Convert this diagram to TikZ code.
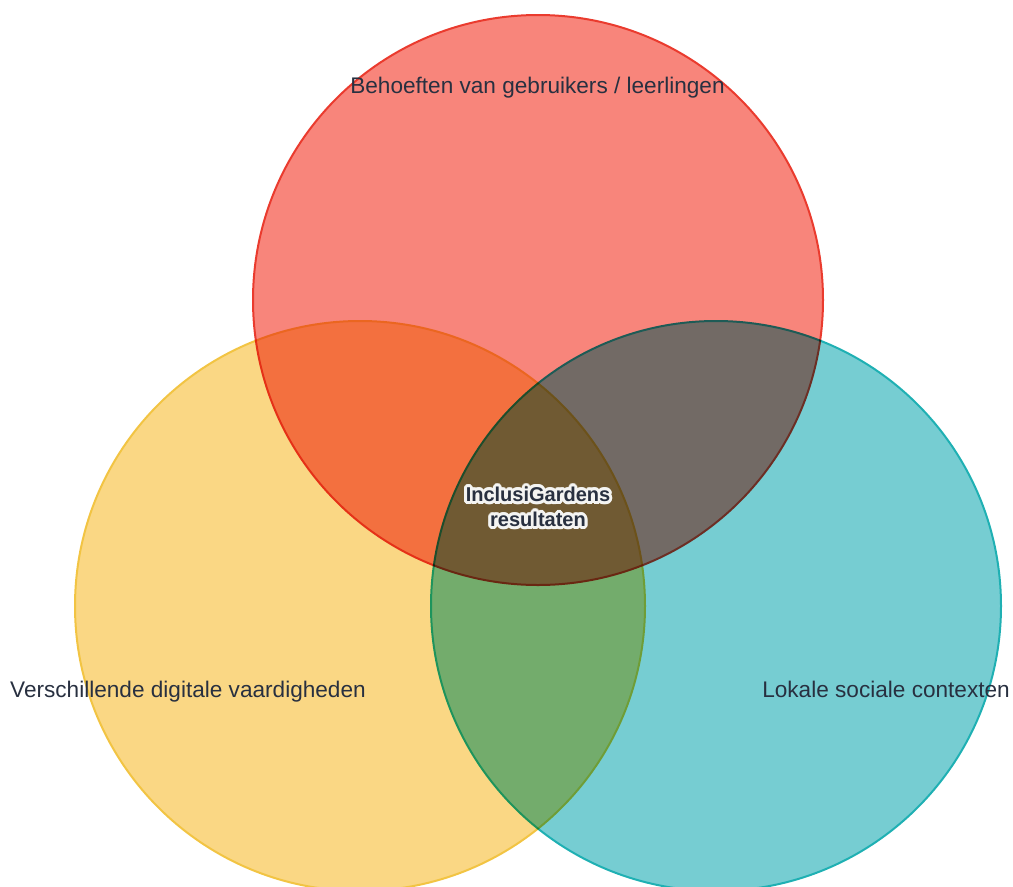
\documentclass[tikz,border=0pt]{standalone}
\usepackage{fontspec}
\setmainfont{Liberation Sans}
\usepackage{xcolor}
\usepackage{tikz}
\definecolor{ink}{HTML}{283040}
\definecolor{glow}{HTML}{F4F4F2}
\definecolor{redfill}{HTML}{F8857B}
\definecolor{redline}{HTML}{EA3B2E}
\definecolor{yellowfill}{HTML}{FAD784}
\definecolor{yellowline}{HTML}{F2C443}
\definecolor{tealfill}{HTML}{76CDD2}
\definecolor{tealline}{HTML}{1FB0B3}
\tikzset{
  redset/.style={fill=redfill, draw=redline, line width=2pt},
  yellowset/.style={fill=yellowfill, draw=yellowline, line width=2pt},
  tealset/.style={fill=tealfill, draw=tealline, line width=2pt},
  lab/.style={text=ink, font=\fontsize{22.6}{27}\selectfont, inner sep=0pt},
  core/.style={font=\fontsize{20}{25}\selectfont\bfseries, align=center, inner sep=0pt},
}

\begin{document}
\begin{tikzpicture}[x=1pt, y=1pt]
\useasboundingbox (0,0) rectangle (1013,-887);
\begin{scope}[blend mode=multiply]
\begin{scope}[transparency group]
\draw[redset] (538,-300) circle (285);
\end{scope}
\begin{scope}[transparency group]
\draw[yellowset] (360,-606) circle (285);
\end{scope}
\begin{scope}[transparency group]
\draw[tealset] (716,-606) circle (285);
\end{scope}
\end{scope}
\node[lab, anchor=base] (needs) at (537.5,-93) {Behoeften van gebruikers / leerlingen};
\node[lab, anchor=base west] (skills) at (10,-697) {Verschillende digitale vaardigheden};
\node[lab, anchor=base east] (context) at (1010,-697) {Lokale sociale contexten};

% halo round the centre label
\foreach \a in {0,22.5,...,337.5}
  \node[core, text=glow, shift={(\a:3)}] (halo\a) at (538,-507) {InclusiGardens\\resultaten};
\node[core, text=ink] (result) at (538,-507) {InclusiGardens\\resultaten};
\end{tikzpicture}
\end{document}
